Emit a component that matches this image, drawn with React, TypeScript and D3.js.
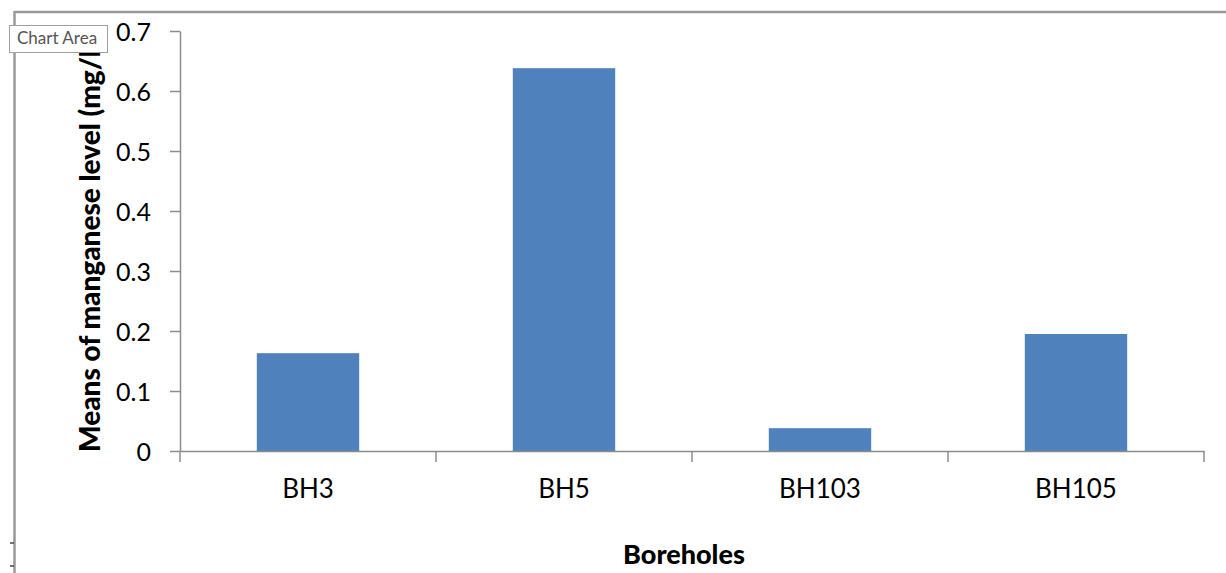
import React, { useRef, useEffect } from 'react';
import * as d3 from 'd3';

const boreholes = ['BH3', 'BH5', 'BH103', 'BH105'];
const manganeseMeans = [0.163, 0.638, 0.038, 0.195];
const yTicks = [0, 0.1, 0.2, 0.3, 0.4, 0.5, 0.6, 0.7];

const App: React.FC = () => {
  const svgRef = useRef<SVGSVGElement>(null);

  useEffect(() => {
    if (!svgRef.current) return;
    document.body.style.margin = '0';

    const width = 1226;
    const height = 573;
    const plot = { left: 180, right: 1204, top: 31, bottom: 451 };
    const axisColor = '#8c8c8c';
    const font = 'Lato, "Liberation Sans", sans-serif';

    d3.select(svgRef.current).selectAll('*').remove();

    const svg = d3.select(svgRef.current)
      .attr('width', width)
      .attr('height', height)
      .style('display', 'block')
      .style('background', '#fff');

    // Scales
    const x = d3.scaleBand<string>()
      .domain(boreholes)
      .range([plot.left, plot.right])
      .paddingInner(0.6)
      .paddingOuter(0.3);

    const y = d3.scaleLinear()
      .domain([0, 0.7])
      .range([plot.bottom, plot.top]);

    // Chart area border (top and left edges only visible)
    svg.append('line')
      .attr('x1', 14).attr('x2', width)
      .attr('y1', 12).attr('y2', 12)
      .attr('stroke', '#9a9a9a').attr('stroke-width', 2.5);
    svg.append('line')
      .attr('x1', 14.5).attr('x2', 14.5)
      .attr('y1', 11).attr('y2', height)
      .attr('stroke', '#9a9a9a').attr('stroke-width', 2.5);
    [543, 566].forEach(py => {
      svg.append('line')
        .attr('x1', 10).attr('x2', 14)
        .attr('y1', py).attr('y2', py)
        .attr('stroke', '#444').attr('stroke-width', 1.5);
    });

    // Bars
    svg.selectAll('.bar')
      .data(boreholes)
      .enter()
      .append('rect')
      .attr('class', 'bar')
      .attr('x', d => x(d) as number)
      .attr('y', (d, i) => y(manganeseMeans[i]))
      .attr('width', x.bandwidth())
      .attr('height', (d, i) => y(0) - y(manganeseMeans[i]))
      .attr('fill', '#4f81bd');

    // Y axis
    const yAxis = svg.append('g')
      .attr('transform', `translate(${plot.left},0)`)
      .call(d3.axisLeft(y).tickValues(yTicks).tickSize(10).tickSizeOuter(0)
        .tickFormat(d => d3.format('~g')(d as number)));
    yAxis.select('.domain').attr('stroke', axisColor).attr('stroke-width', 1.5);
    yAxis.selectAll('.tick line').attr('stroke', axisColor).attr('stroke-width', 1.5);
    yAxis.selectAll('.tick text')
      .attr('x', -29)
      .attr('dy', '0.36em')
      .style('font-family', font)
      .style('font-size', '25px')
      .attr('fill', '#000');

    // X axis
    const xAxis = svg.append('g')
      .attr('transform', `translate(0,${plot.bottom})`)
      .call(d3.axisBottom(x).tickSize(0).tickSizeOuter(0));
    xAxis.select('.domain').attr('stroke', axisColor).attr('stroke-width', 1.5);
    xAxis.selectAll('.tick text')
      .attr('y', 47)
      .attr('dy', 0)
      .style('font-family', font)
      .style('font-size', '26px')
      .attr('fill', '#000');

    // category boundary ticks
    const step = x.step();
    const bounds = d3.range(boreholes.length + 1).map(i => plot.left + i * step);
    svg.append('g')
      .selectAll('line')
      .data(bounds)
      .enter()
      .append('line')
      .attr('x1', d => d).attr('x2', d => d)
      .attr('y1', plot.bottom).attr('y2', plot.bottom + 11)
      .attr('stroke', axisColor).attr('stroke-width', 1.5);

    // Axis titles
    svg.append('text')
      .attr('transform', `translate(100,452) rotate(-90)`)
      .attr('text-anchor', 'start')
      .style('font-family', font)
      .style('font-weight', '900')
      .style('font-size', '28px')
      .text('Means of manganese level (mg/l)');

    svg.append('text')
      .attr('x', 684)
      .attr('y', 564)
      .attr('text-anchor', 'middle')
      .style('font-family', font)
      .style('font-weight', '900')
      .style('font-size', '27px')
      .text('Boreholes');

    // "Chart Area" tooltip
    svg.append('rect')
      .attr('x', 9.5).attr('y', 25.5)
      .attr('width', 98).attr('height', 27)
      .attr('fill', '#fff')
      .attr('stroke', '#a0a0a0');
    svg.append('text')
      .attr('x', 17)
      .attr('y', 44)
      .style('font-family', font)
      .style('font-size', '17px')
      .attr('fill', '#555')
      .text('Chart Area');
  }, []);

  return <svg ref={svgRef} />;
};

export default App;
